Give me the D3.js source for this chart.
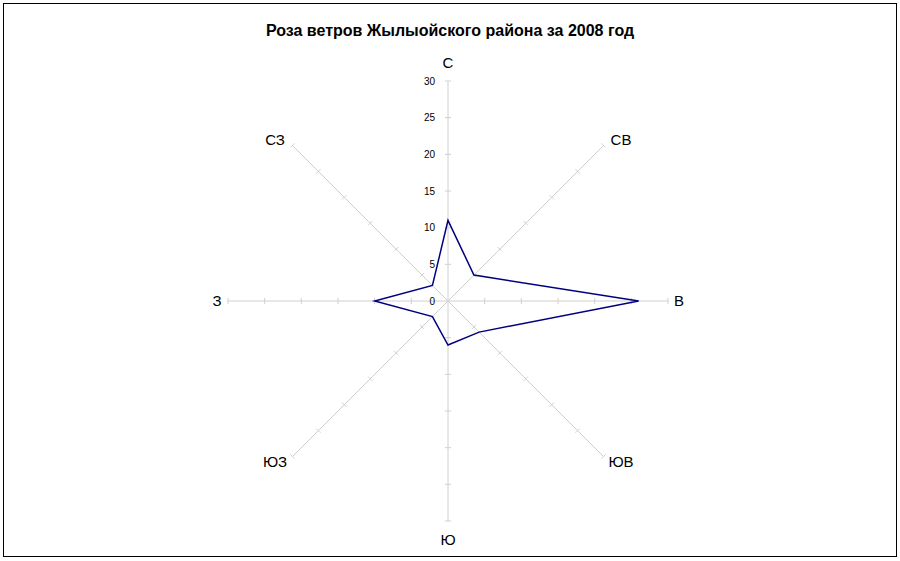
<!DOCTYPE html>
<html><head><meta charset="utf-8">
<script src="https://cdn.jsdelivr.net/npm/d3@7"></script>
<style>body{margin:0;background:#fff}svg{font-family:"Liberation Sans",Arial,sans-serif}</style>
</head><body>
<svg id="chart" width="900" height="561"></svg>
<script>
var directions = ['С', 'СВ', 'В', 'ЮВ', 'Ю', 'ЮЗ', 'З', 'СЗ'];
var values = [11, 5, 26, 6, 6, 3, 10, 3];
var ticks = [0, 5, 10, 15, 20, 25, 30];

var svg = d3.select('#chart'),
    cx = 448, cy = 301;
var r = d3.scaleLinear().domain([0, 30]).range([0, 220]);
var ang = function (i) { return i * Math.PI / 4; };
var pt = function (i, v) { return [cx + r(v) * Math.sin(ang(i)), cy - r(v) * Math.cos(ang(i))]; };

svg.append('rect').attr('x', 3.5).attr('y', 3.5).attr('width', 893).attr('height', 553)
  .attr('fill', 'none').attr('stroke', '#000').attr('stroke-width', 1);

svg.append('text').attr('x', 450).attr('y', 36).attr('text-anchor', 'middle')
  .attr('font-size', 16).attr('font-weight', 'bold').text('Роза ветров Жылыойского района за 2008 год');

directions.forEach(function (d, i) {
  var e = pt(i, 30);
  svg.append('line').attr('x1', cx).attr('y1', cy).attr('x2', e[0]).attr('y2', e[1])
    .attr('stroke', '#d0d0d0').attr('stroke-width', 1);
  ticks.slice(1).forEach(function (t) {
    var p = pt(i, t), a = ang(i), s = 3;
    svg.append('line')
      .attr('x1', p[0] - s * Math.cos(a)).attr('y1', p[1] - s * Math.sin(a))
      .attr('x2', p[0] + s * Math.cos(a)).attr('y2', p[1] + s * Math.sin(a))
      .attr('stroke', '#d0d0d0');
  });
  var diag = i % 2 === 1;
  var sx = Math.sign(Math.round(Math.sin(ang(i)) * 100)), sy = -Math.sign(Math.round(Math.cos(ang(i)) * 100));
  var lx = diag ? cx + sx * 173 : pt(i, i % 4 === 0 ? 32.5 : 31.5)[0];
  var ly = diag ? cy + sy * 161 : pt(i, i % 4 === 0 ? 32.5 : 31.5)[1];
  svg.append('text').attr('x', lx).attr('y', ly).attr('dy', '0.35em')
    .attr('text-anchor', 'middle').attr('font-size', 15).text(d);
});

ticks.forEach(function (t) {
  svg.append('text').attr('x', cx - 13).attr('y', cy - r(t)).attr('dy', '0.35em')
    .attr('text-anchor', 'end').attr('font-size', 10).text(t);
});

svg.append('path')
  .attr('d', d3.line()(values.map(function (v, i) { return pt(i, v); })) + 'Z')
  .attr('fill', 'none').attr('stroke', '#000080').attr('stroke-width', 1.5);
</script>
</body></html>
